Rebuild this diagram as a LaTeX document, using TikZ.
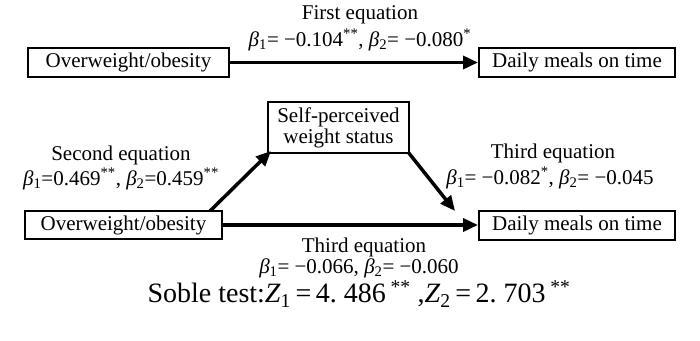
\documentclass[tikz,border=0pt]{standalone}
\usepackage{fontspec}
\setmainfont{Liberation Serif}
\usetikzlibrary{arrows.meta}
\newcommand\bt[1]{{\itshape β}\textsubscript{#1}}
\newcommand\zt[1]{{\itshape Z}\textsubscript{#1}}
\begin{document}
\begin{tikzpicture}[x=1pt,y=-1pt,
  vbox/.style={draw,line width=2pt,inner sep=0pt,font=\fontsize{21}{24}\selectfont},
  lbl/.style={inner sep=0pt,font=\fontsize{21}{24}\selectfont},
  arr/.style={line width=3.5pt,-{Triangle[length=15pt,width=13pt]}}]
\useasboundingbox (0,0) rectangle (700,340);
\node[vbox,minimum width=201pt,minimum height=29pt] (ob1) at (128.5,62.5) {Overweight/obesity};
\node[vbox,minimum width=196pt,minimum height=29pt] (dm1) at (577,62.5) {Daily meals on time};
\node[vbox,minimum width=141pt,minimum height=51pt,align=center] (sp) at (338.5,127.5) {Self-perceived\\[-3pt]weight status};
\node[vbox,minimum width=197pt,minimum height=28pt] (ob2) at (123.5,225) {Overweight/obesity};
\node[vbox,minimum width=196pt,minimum height=29pt] (dm2) at (577,225) {Daily meals on time};
\coordinate (c1) at (210,211);
\coordinate (c2) at (271,151);
\coordinate (c3) at (408,152);
\coordinate (c4) at (455,211);
\draw[arr] (ob1.east) -- (dm1.west);
\draw[arr] (ob2.east) -- (dm2.west);
\draw[arr] (c1) -- (c2);
\draw[arr] (c3) -- (c4);
\node[lbl] (t1) at (360,15) {First equation};
\node[lbl] (b1) at (360,40) {\bt{1}= −0.104\textsuperscript{**}, \bt{2}= −0.080\textsuperscript{*}};
\node[lbl] (t2) at (121,155) {Second equation};
\node[lbl] (b2) at (121,179) {\bt{1}=0.469\textsuperscript{**}, \bt{2}=0.459\textsuperscript{**}};
\node[lbl] (t3) at (553,153) {Third equation};
\node[lbl] (b3) at (550,178) {\bt{1}= −0.082\textsuperscript{*}, \bt{2}= −0.045};
\node[lbl] (t4) at (364,247) {Third equation};
\node[lbl] (b4) at (359,268) {\bt{1}= −0.066, \bt{2}= −0.060};
\node[inner sep=0pt,font=\fontsize{28}{30}\selectfont] (sob) at (359,294) {Soble test:\zt{1}\,=\,4.\ 486\,\textsuperscript{**}\ ,\zt{2}\,=\,2.\ 703\,\textsuperscript{**}};
\end{tikzpicture}
\end{document}
